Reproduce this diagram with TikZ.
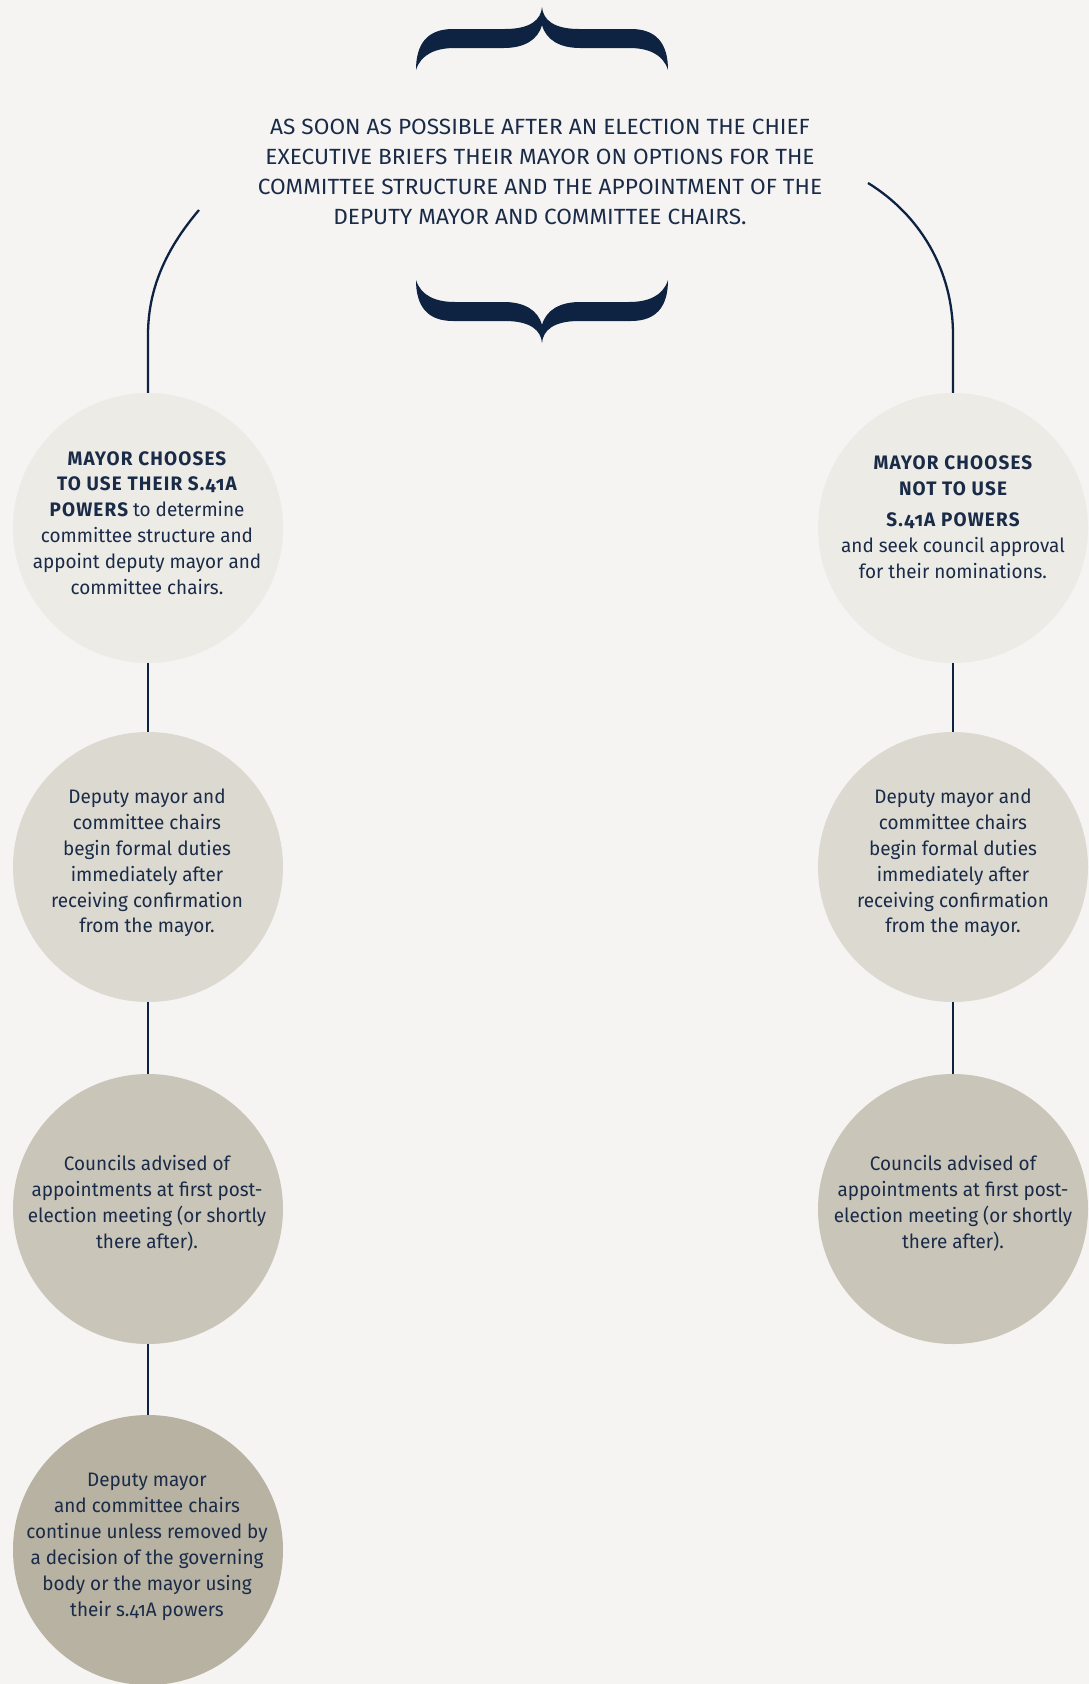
\documentclass[tikz,border=0pt]{standalone}
\usepackage{fontspec}
\setmainfont{Fira Sans}[Numbers=OldStyle, FakeStretch=0.97, BoldFeatures={LetterSpace=6}]
\newfontfamily\hdrfont{Fira Sans}[FakeStretch=1.03]
\definecolor{bg}{HTML}{F5F4F2}
\definecolor{navy}{HTML}{0E2341}
\definecolor{txt}{HTML}{1A2B48}
\definecolor{cA}{HTML}{EDEBE6}
\definecolor{cB}{HTML}{DCD9D1}
\definecolor{cC}{HTML}{CAC5B9}
\definecolor{cD}{HTML}{B7B2A1}
\tikzset{
  bub/.style={circle, minimum size=270pt, inner sep=0pt},
  bubtext/.style={align=center, text=txt, inner sep=0pt,
    font=\fontsize{19.5pt}{25.9pt}\selectfont},
  conn/.style={draw=navy, line width=2.3pt},
  bracepic/.pic={
    \fill[navy] (0,0) .. controls (-1,13) and (-12,22) .. (-37,22) -- (-89,22)
      .. controls (-114,22) and (-126,36) .. (-126,63)
      .. controls (-121,47) and (-106,41) .. (-87,41) -- (-38,41)
      .. controls (-18,41) and (-4,33) .. (0,18)
      .. controls (4,33) and (18,41) .. (38,41) -- (87,41)
      .. controls (106,41) and (121,47) .. (126,63)
      .. controls (126,36) and (114,22) .. (89,22) -- (37,22)
      .. controls (12,22) and (1,13) .. (0,0) -- cycle;
  }
}
\begin{document}
\begin{tikzpicture}[x=1pt,y=-1pt]
\fill[bg] (0,0) rectangle (1089,1684);
\useasboundingbox (0,0) rectangle (1089,1684);
\clip (0,0) rectangle (1089,1684);

\pic at (542,7) {bracepic};
\pic[yscale=-1] at (542,343) {bracepic};

\node[text=txt, align=center, font=\hdrfont\fontsize{22pt}{30pt}\selectfont] (hdr) at (540,172)
  {AS SOON AS POSSIBLE AFTER AN ELECTION THE CHIEF\\
   EXECUTIVE BRIEFS THEIR MAYOR ON OPTIONS FOR THE\\
   COMMITTEE STRUCTURE AND THE APPOINTMENT OF THE\\
   DEPUTY MAYOR AND COMMITTEE CHAIRS.};

% circles
\node[bub, fill=cA] (l1) at (148,528) {};
\node[bub, fill=cB] (l2) at (148,867) {};
\node[bub, fill=cC] (l3) at (148,1209) {};
\node[bub, fill=cD] (l4) at (148,1550) {};
\node[bub, fill=cA] (r1) at (953,528) {};
\node[bub, fill=cB] (r2) at (953,867) {};
\node[bub, fill=cC] (r3) at (953,1209) {};

% texts
\node[bubtext] (l1t) at (147,523)
  {{\bfseries MAYOR CHOOSES}\\
   {\bfseries TO USE THEIR S.41A}\\
   {\bfseries POWERS} to determine\\
   committee structure and\\
   appoint deputy mayor and\\
   committee chairs.};
\node[bubtext] (l2t) at (147,863)
  {Deputy mayor and\\ committee chairs\\ begin formal duties\\ immediately after\\ receiving confirmation\\ from the mayor.};
\node[bubtext] (l3t) at (147,1203)
  {Councils advised of\\ appointments at first post-\\ election meeting (or shortly\\ there after).};
\node[bubtext] (l4t) at (147,1547)
  {Deputy mayor\\ and committee chairs\\ continue unless removed by\\ a decision of the governing\\ body or the mayor using\\ their s.41A powers};
\node[bubtext] (r1t) at (953,517)
  {{\bfseries MAYOR CHOOSES}\\
   {\bfseries NOT TO USE}\\[5pt]
   {\bfseries S.41A POWERS}\\
   and seek council approval\\
   for their nominations.};
\node[bubtext] (r2t) at (953,863)
  {Deputy mayor and\\ committee chairs\\ begin formal duties\\ immediately after\\ receiving confirmation\\ from the mayor.};
\node[bubtext] (r3t) at (953,1203)
  {Councils advised of\\ appointments at first post-\\ election meeting (or shortly\\ there after).};

\coordinate (hl) at (199,210);
\coordinate (hr) at (868,183);
\draw[conn] (hl) .. controls (165,250) and (148,290) .. (148,335) -- (l1.north);
\draw[conn] (hr) .. controls (920,215) and (953,270) .. (953,335) -- (r1.north);

\draw[conn] (l1.south) -- (l2.north);
\draw[conn] (l2.south) -- (l3.north);
\draw[conn] (l3.south) -- (l4.north);
\draw[conn] (r1.south) -- (r2.north);
\draw[conn] (r2.south) -- (r3.north);
\end{tikzpicture}
\end{document}
